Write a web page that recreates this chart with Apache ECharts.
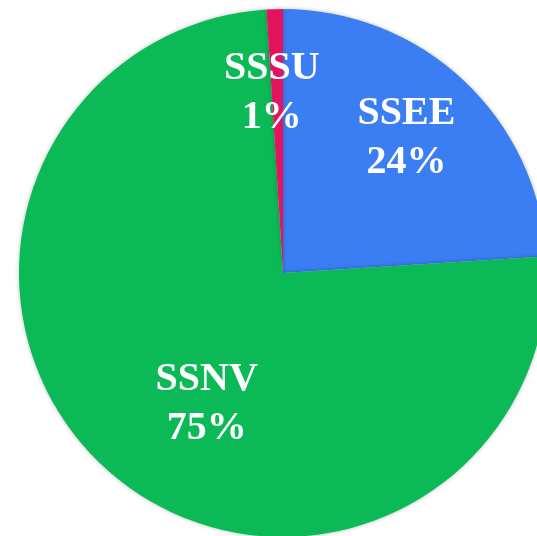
<!DOCTYPE html>
<html>
<head>
<meta charset="utf-8">
<script src="https://cdn.jsdelivr.net/npm/echarts@6/dist/echarts.min.js"></script>
<style>
  html, body { margin: 0; padding: 0; background: #fff; }
  #pie { width: 537px; height: 536px; }
</style>
</head>
<body>
<div id="pie"></div>
<script>
  // slice names and shares (%), clockwise from 12 o'clock
  const names = ['SSEE', 'SSNV', 'SSSU'];
  const values = [24, 75, 1];
  const colors = ['#3b7df3', '#0bba56', '#e3145f'];
  // nudge labels away from the default inside spot
  const labelOffsets = [[31, -36], [13, 30], [-7, -45]];

  const chart = echarts.init(document.getElementById('pie'));
  const option = {
    animation: false,
    series: [
      {
        type: 'pie',
        center: [283, 273],
        radius: 264,
        startAngle: 90,
        clockwise: true,
        itemStyle: {
          borderWidth: 0,
          shadowBlur: 4,
          shadowColor: 'rgba(0,0,0,0.25)'
        },
        label: {
          show: true,
          position: 'inside',
          formatter: '{b}\n{c}%',
          color: '#fff',
          fontFamily: 'Liberation Serif',
          fontWeight: 'bold',
          fontSize: 40,
          lineHeight: 49
        },
        labelLine: { show: false },
        data: names.map((n, i) => ({
          name: n,
          value: values[i],
          itemStyle: { color: colors[i] },
          label: { offset: labelOffsets[i] }
        }))
      }
    ]
  };
  chart.setOption(option);
  window.addEventListener('resize', function () {
    chart.resize();
  });
</script>
</body>
</html>
